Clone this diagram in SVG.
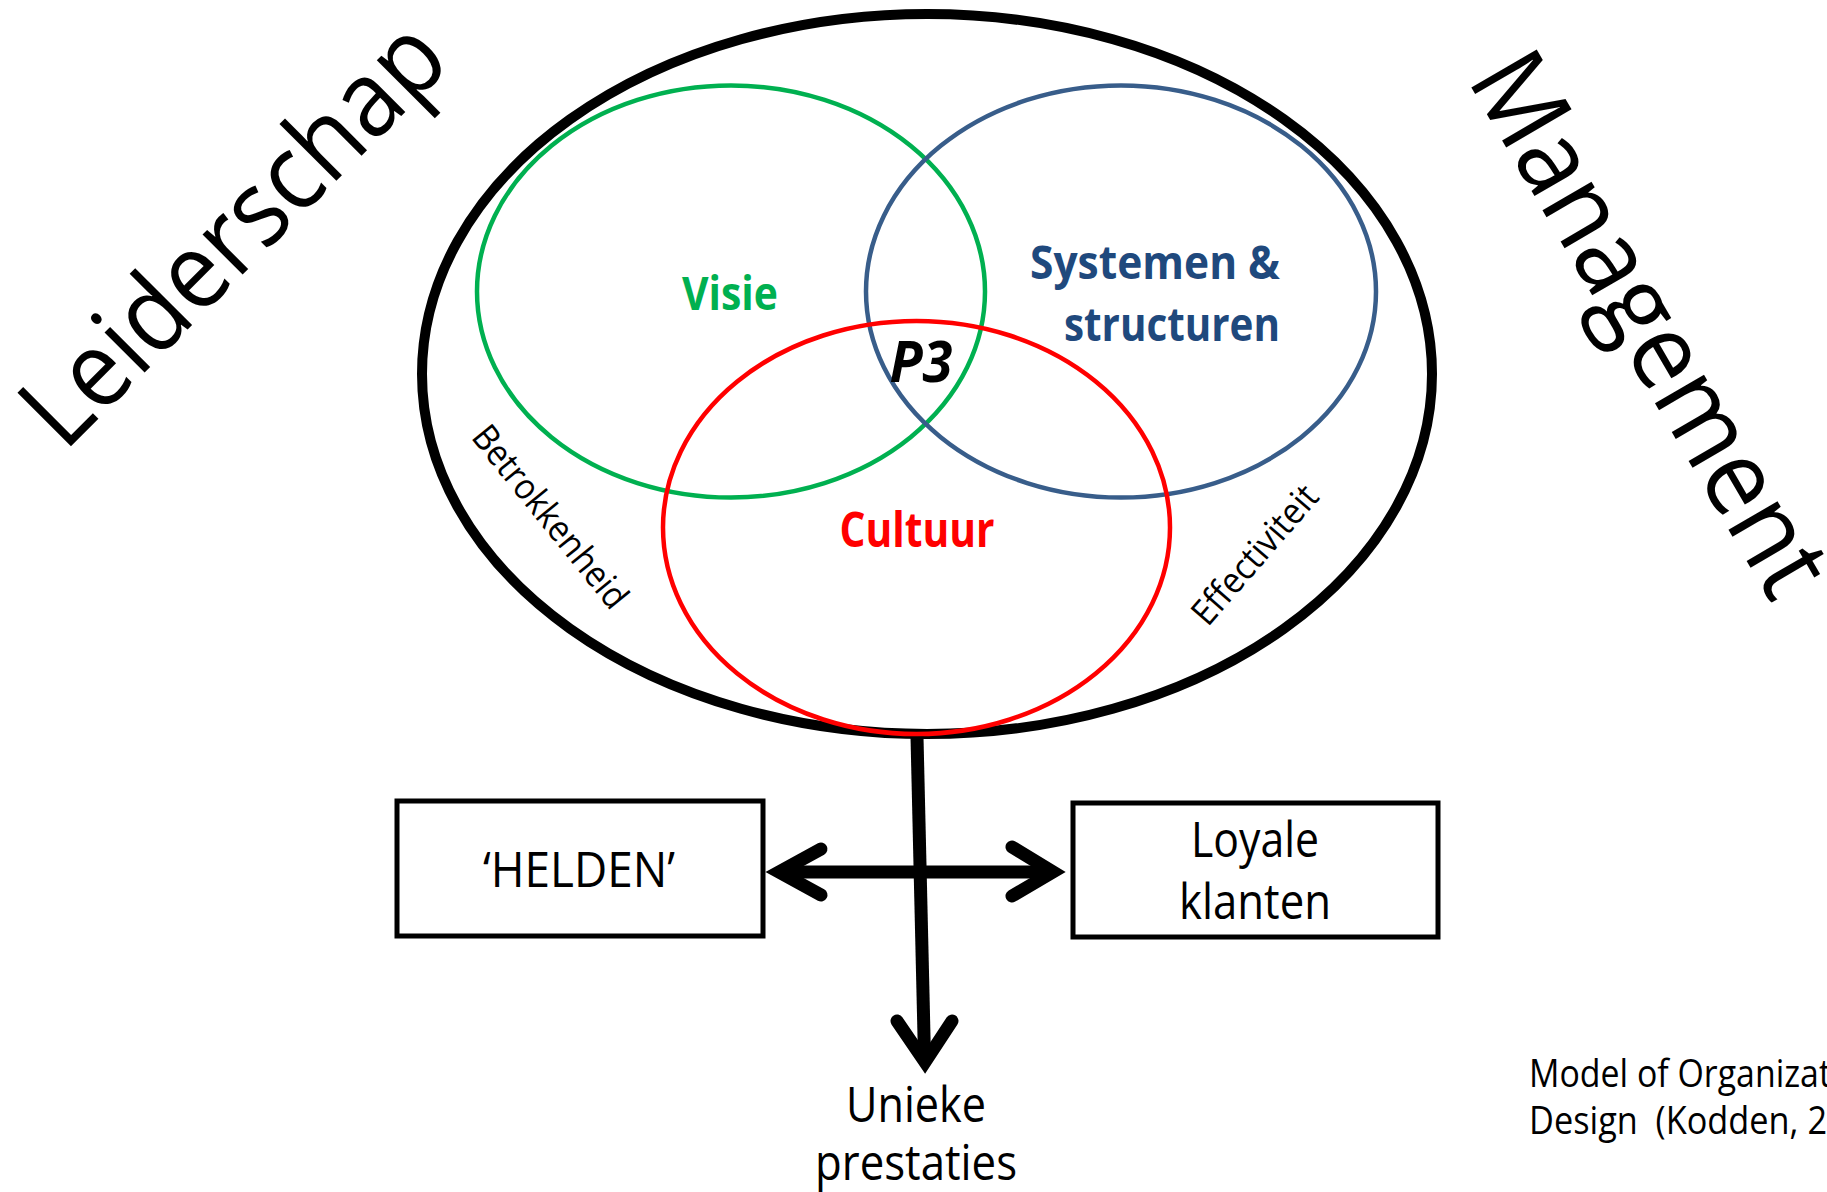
<svg xmlns="http://www.w3.org/2000/svg" width="1827" height="1192" viewBox="0 0 1827 1192">
<style>
text{font-family:"Open Sans","Noto Sans","Liberation Sans",sans-serif;fill:#000}
.big{font-size:106px}
.lbl{font-size:46px;font-weight:bold}
.side{font-size:36px}
.box{font-size:49px}
.ring{fill:none;stroke-width:4.5}
.arrow{fill:none;stroke:#000;stroke-width:13;stroke-linecap:round;stroke-linejoin:miter;stroke-miterlimit:6}
</style>
<rect width="1827" height="1192" fill="#fff"/>
<g id="leiderschap"><text class="big" transform="translate(236,236) rotate(-45)" y="32" text-anchor="middle" textLength="550" lengthAdjust="spacingAndGlyphs">Leiderschap</text></g>
<g id="management"><text class="big" transform="translate(1647,326) rotate(59.8)" y="32" text-anchor="middle" textLength="608" lengthAdjust="spacingAndGlyphs">Management</text></g>
<g id="outer"><ellipse cx="927" cy="374" rx="505" ry="360" fill="none" stroke="#000" stroke-width="10"/></g>
<g id="visie">
<ellipse class="ring" cx="731" cy="291.5" rx="254" ry="206" stroke="#00B050"/>
<text class="lbl" x="730" y="310" text-anchor="middle" style="fill:#00B050" textLength="96" lengthAdjust="spacingAndGlyphs">Visie</text>
</g>
<g id="systemen">
<ellipse class="ring" cx="1121" cy="291.5" rx="255" ry="206" stroke="#385D8A"/>
<text class="lbl" x="1280" y="279" text-anchor="end" style="fill:#1F497D" textLength="250" lengthAdjust="spacingAndGlyphs">Systemen &amp;</text>
<text class="lbl" x="1280" y="341" text-anchor="end" style="fill:#1F497D" textLength="216" lengthAdjust="spacingAndGlyphs">structuren</text>
</g>
<g id="cultuur">
<ellipse class="ring" cx="916.5" cy="527.5" rx="253.5" ry="206.5" stroke="#FF0000"/>
<text class="lbl" x="917" y="547" text-anchor="middle" style="fill:#FF0000;font-size:48px" textLength="155" lengthAdjust="spacingAndGlyphs">Cultuur</text>
</g>
<g id="p3"><text x="921" y="382" text-anchor="middle" style="font-size:58px;font-weight:bold;font-style:italic" textLength="63" lengthAdjust="spacingAndGlyphs">P3</text></g>
<g id="betrokkenheid"><text class="side" transform="translate(550,517) rotate(51)" y="12" text-anchor="middle" textLength="224" lengthAdjust="spacingAndGlyphs">Betrokkenheid</text></g>
<g id="effectiviteit"><text class="side" transform="translate(1255,555) rotate(-49)" y="12" text-anchor="middle" textLength="172" lengthAdjust="spacingAndGlyphs">Effectiviteit</text></g>
<g id="helden">
<rect x="397" y="801" width="366" height="135" fill="#fff" stroke="#000" stroke-width="5"/>
<text class="box" x="579" y="887" text-anchor="middle" textLength="192" lengthAdjust="spacingAndGlyphs">‘HELDEN’</text>
</g>
<g id="klanten">
<rect x="1073" y="803" width="365" height="134" fill="#fff" stroke="#000" stroke-width="5"/>
<text class="box" x="1255" y="857" text-anchor="middle" textLength="128" lengthAdjust="spacingAndGlyphs">Loyale</text>
<text class="box" x="1255" y="919" text-anchor="middle" textLength="152" lengthAdjust="spacingAndGlyphs">klanten</text>
</g>
<g id="unieke">
<text class="box" x="916" y="1122" text-anchor="middle" textLength="140" lengthAdjust="spacingAndGlyphs">Unieke</text>
<text class="box" x="916" y="1180" text-anchor="middle" textLength="202" lengthAdjust="spacingAndGlyphs">prestaties</text>
</g>
<g id="credit">
<text x="1529" y="1087" style="font-size:39px" textLength="302" lengthAdjust="spacingAndGlyphs">Model of Organizat</text>
<text x="1529" y="1134" style="font-size:39px" xml:space="preserve" textLength="298" lengthAdjust="spacingAndGlyphs">Design  (Kodden, 2</text>
</g>
<g id="connectors">
<path class="arrow" style="stroke-linecap:butt" d="M917,737 L924.6,1062"/>
<path class="arrow" style="stroke-linecap:butt" d="M778,872 L1054,872"/>
<path class="arrow" d="M821,849 L779,872 L821,895"/>
<path class="arrow" d="M1012,847 L1053,872 L1012,896"/>
<path class="arrow" d="M897,1021 L925,1062 L952,1021"/>
</g>
</svg>
